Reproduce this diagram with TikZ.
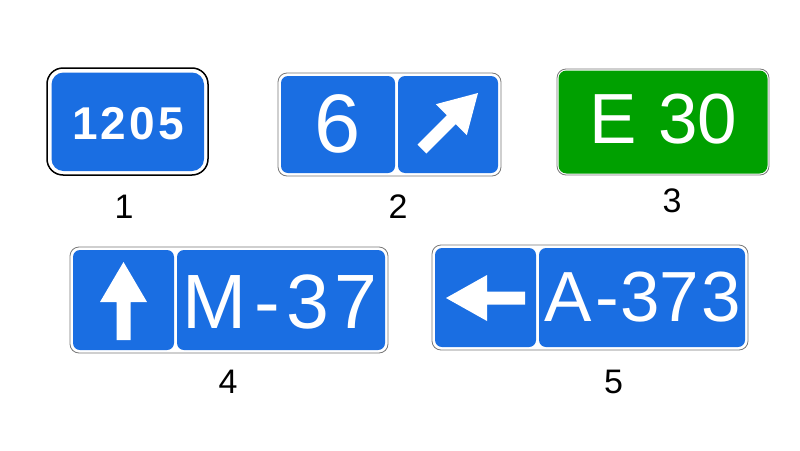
\documentclass[tikz,border=0pt]{standalone}
\usepackage{fontspec}
\setmainfont{Liberation Sans}
\definecolor{signblue}{RGB}{26,110,226}
\definecolor{signgreen}{RGB}{0,160,0}
\definecolor{rimgray}{RGB}{120,120,120}
\begin{document}
\begin{tikzpicture}[x=1pt,y=-1pt,
  rim/.style={draw=rimgray,line width=0.8pt,fill=white,rounded corners=9pt},
  bluepanel/.style={fill=signblue,rounded corners=7pt},
  signtxt/.style={text=white,inner sep=0pt,anchor=base},
  numlabel/.style={text=black,inner sep=0pt,anchor=base,font=\fontsize{34}{34}\selectfont},
  arrowfill/.style={fill=white}]
\useasboundingbox (0,0) rectangle (800,450);
\fill[white] (0,0) rectangle (800,450);
% sign 1
\draw[black,line width=1.5pt,fill=white,rounded corners=16pt] (47,68) rectangle (208,175);
\fill[signblue,rounded corners=12pt] (51.5,72.5) rectangle (204,171);
\node[signtxt,font=\bfseries\fontsize{46}{46}\selectfont] (t1) at (128,139) {1\kern3pt2\kern3pt0\kern3pt5};
% sign 2
\draw[rim] (278,73) rectangle (501,176);
\fill[bluepanel] (281,76) rectangle (395,173);
\fill[bluepanel] (398,76) rectangle (498,173);
\node[signtxt,font=\fontsize{83}{83}\selectfont] (t2) at (338,152) {6};
\fill[arrowfill] (478,93) -- (466.8,135.2) -- (455.8,124.1) -- (426.4,153.5) -- (417.5,144.6) -- (446.9,115.2) -- (435.8,104.2) -- cycle;
% sign 3
\draw[rim] (557,69) rectangle (769,175);
\fill[signgreen,rounded corners=8pt] (558.5,70.5) rectangle (767.5,173.5);
\node[signtxt,font=\fontsize{71}{71}\selectfont] (t3a) at (613,143) {E};
\node[signtxt,font=\fontsize{71}{71}\selectfont] (t3b) at (697.5,143) {30};
% sign 4
\draw[rim] (70,247) rectangle (388,353);
\fill[bluepanel] (73,250) rectangle (174,350);
\fill[bluepanel] (177,250) rectangle (385,350);
\fill[arrowfill] (123.5,262) -- (147,302) -- (130.5,302) -- (130.5,340) -- (116.5,340) -- (116.5,302) -- (100,302) -- cycle;
\node[signtxt,font=\fontsize{77}{77}\selectfont] (t4a) at (215,328) {M};
\node[signtxt,font=\fontsize{77}{77}\selectfont] (t4b) at (267,328) {-};
\node[signtxt,font=\fontsize{77}{77}\selectfont] (t4c) at (307.5,328) {3};
\node[signtxt,font=\fontsize{77}{77}\selectfont] (t4d) at (355.5,328) {7};
% sign 5
\draw[rim] (432,245) rectangle (748,350);
\fill[bluepanel] (435,248) rectangle (536,347);
\fill[bluepanel] (539,248) rectangle (745,347);
\fill[arrowfill] (446,298) -- (487,275) -- (487,291.5) -- (525,291.5) -- (525,304.5) -- (487,304.5) -- (487,321) -- cycle;
\node[signtxt,font=\fontsize{71}{71}\selectfont] (t5a) at (568.5,321) {A};
\node[signtxt,font=\fontsize{71}{71}\selectfont] (t5b) at (607.5,321) {-};
\node[signtxt,font=\fontsize{71}{71}\selectfont] (t5c) at (640,321) {3};
\node[signtxt,font=\fontsize{71}{71}\selectfont] (t5d) at (679,321) {7};
\node[signtxt,font=\fontsize{71}{71}\selectfont] (t5e) at (721.5,321) {3};
% labels
\node[numlabel] (l1) at (124,218) {1};
\node[numlabel] (l2) at (398,218) {2};
\node[numlabel] (l3) at (672,212) {3};
\node[numlabel] (l4) at (228,393) {4};
\node[numlabel] (l5) at (613.5,393) {5};
\end{tikzpicture}
\end{document}
